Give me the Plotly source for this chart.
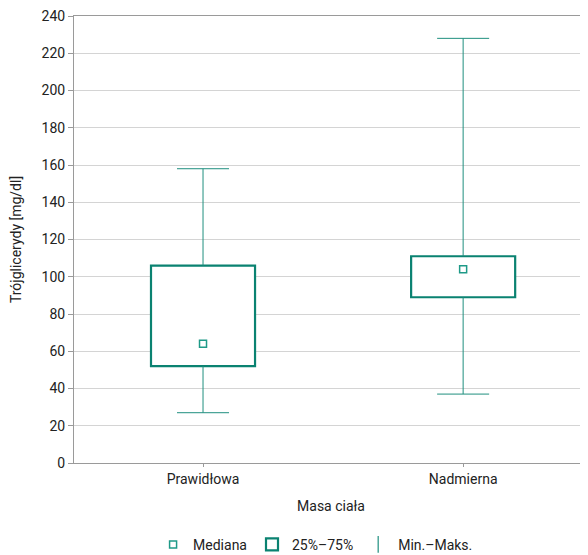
import plotly.graph_objects as go

categories = ["Prawidłowa", "Nadmierna"]
q1 = [52, 89]
median = [64, 104]
q3 = [106, 111]
vmin = [27, 37]
vmax = [158, 228]
y_ticks = list(range(0, 241, 20))

TEAL = "#0a8271"
WHISK = "#1f8f7f"
FONT = "Roboto, sans-serif"
BOX_W = 0.4
CAP_HALF = 0.1

xs = list(range(len(categories)))

fig = go.Figure()

# whiskers (vertical parts + caps), built from the data arrays
wx, wy = [], []
for i in xs:
    wx += [i, i, None, i, i, None, i - CAP_HALF, i + CAP_HALF, None, i - CAP_HALF, i + CAP_HALF, None]
    wy += [vmin[i], q1[i], None, q3[i], vmax[i], None, vmin[i], vmin[i], None, vmax[i], vmax[i], None]
fig.add_trace(go.Scatter(x=wx, y=wy, mode="lines", line=dict(color=WHISK, width=1),
                         showlegend=False, hoverinfo="skip"))

# boxes
fig.add_trace(go.Bar(x=xs, y=[b - a for a, b in zip(q1, q3)], base=q1, width=BOX_W,
                     marker=dict(color="white", line=dict(color=TEAL, width=2.2)),
                     name="25%–75%", showlegend=False))

# medians
fig.add_trace(go.Scatter(x=xs, y=median, mode="markers", name="Mediana",
                         marker=dict(symbol="square-open", size=7, color="#1f9a88",
                                     line=dict(width=1.5)), showlegend=True))

# legend proxies
fig.add_trace(go.Bar(x=[None], y=[None], name="25%–75%",
                     marker=dict(color="white", line=dict(color=TEAL, width=2.2))))
fig.add_trace(go.Scatter(x=[None], y=[None], mode="markers", name="Min.–Maks.",
                         marker=dict(symbol="line-ns-open", size=12, color=WHISK,
                                     line=dict(width=1.2, color=WHISK))))

fig.update_layout(
    width=580, height=547,
    margin=dict(l=66, r=0, t=8, b=92, autoexpand=False),
    plot_bgcolor="white", paper_bgcolor="white",
    font=dict(family=FONT, size=14, color="#222222"),
    barmode="overlay",
    showlegend=True,
    legend=dict(orientation="h", x=0.47, xanchor="center", y=-0.183, yanchor="middle",
                font=dict(size=14), traceorder="normal", itemwidth=30),
    xaxis=dict(range=[-0.496, 1.48], tickmode="array", tickvals=xs, ticktext=categories,
               showgrid=False, zeroline=False, showline=True, linecolor="#9a9a9a",
               mirror=True,
               ticks="outside", ticklen=3, tickcolor="#9a9a9a", automargin=False,
               tickfont=dict(size=14),
               title=dict(text="Masa ciała", standoff=15, font=dict(size=14))),
    yaxis=dict(range=[0, 240], tickmode="array", tickvals=y_ticks,
               showgrid=True, gridcolor="#d4d4d4", gridwidth=1, zeroline=False,
               showline=True, linecolor="#9a9a9a", ticks="outside", ticklen=5,
               tickcolor="#9a9a9a", automargin=False, tickfont=dict(size=14),
               ticklabeloverflow="allow",
               title=dict(text="Trójglicerydy [mg/dl]", standoff=18, font=dict(size=14))),
)

fig.write_html("out.html")
